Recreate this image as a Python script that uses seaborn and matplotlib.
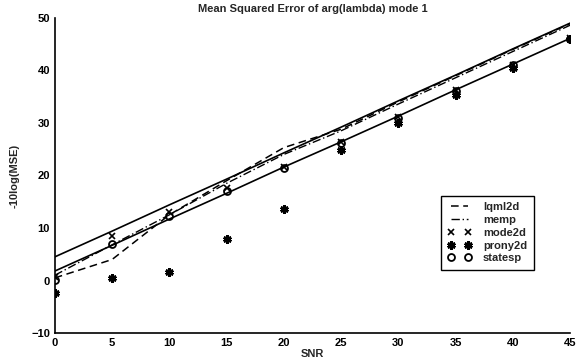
import numpy as np
import pandas as pd
import seaborn as sns
from matplotlib import pyplot as plt

snr = [0, 5, 10, 15, 20, 25, 30, 35, 40, 45]

# two unlabelled bound lines
bound_upper = [4.5, 9.4, 14.4, 19.3, 24.3, 29.2, 34.2, 39.1, 44.1, 49.0]
bound_lower = [1.8, 6.7, 11.7, 16.6, 21.6, 26.4, 31.3, 36.3, 41.2, 46.1]

lqml2d = [0.5, 4.0, 12.5, 19.0, 25.3, 28.8, 34.0, 39.0, 44.0, 48.9]
memp = [1.0, 6.8, 12.5, 18.5, 24.0, 28.5, 33.6, 38.6, 43.6, 48.6]
mode2d = [0.6, 8.5, 13.1, 17.6, 21.7, 26.3, 31.2, 36.2, 41.1, 46.1]
prony2d = [-2.4, 0.4, 1.7, 7.9, 13.6, 24.8, 30.0, 35.4, 40.4, 45.9]
statesp = [0.1, 7.0, 12.2, 17.0, 21.5, 26.2, 31.0, 36.0, 41.0, 46.0]

df = pd.DataFrame({'SNR': snr, 'upper': bound_upper, 'lower': bound_lower,
                   'lqml2d': lqml2d, 'memp': memp, 'mode2d': mode2d,
                   'prony2d': prony2d, 'statesp': statesp})

sns.set_style('white')
plt.rcParams['font.family'] = ['Liberation Sans', 'DejaVu Sans']
plt.rcParams['font.weight'] = 'bold'

fig, ax = plt.subplots(figsize=(5.83, 3.64), dpi=100)
fig.subplots_adjust(left=0.094, right=0.978, top=0.951, bottom=0.085)

sns.lineplot(data=df, x='SNR', y='upper', color='black', lw=1.2, ax=ax)
sns.lineplot(data=df, x='SNR', y='lower', color='black', lw=1.2, ax=ax)
sns.lineplot(data=df, x='SNR', y='lqml2d', color='black', lw=1.1,
             linestyle=(0, (5, 3)), label='lqml2d', ax=ax)
sns.lineplot(data=df, x='SNR', y='memp', color='black', lw=1.0,
             linestyle=(0, (6, 2, 1, 2)), label='memp', ax=ax)
sns.lineplot(data=df, x='SNR', y='mode2d', color='black', linestyle='none',
             marker='x', markersize=5, markeredgecolor='black', markeredgewidth=1.2,
             label='mode2d', ax=ax)
sns.lineplot(data=df, x='SNR', y='prony2d', color='black', linestyle='none',
             marker=(6, 2, 0), markersize=6, markeredgecolor='black', markeredgewidth=2.0,
             label='prony2d', ax=ax)
sns.lineplot(data=df, x='SNR', y='statesp', color='black', linestyle='none',
             marker='o', markersize=5, markerfacecolor='none', markeredgecolor='black',
             markeredgewidth=1.3, label='statesp', ax=ax)

ax.set_xlim(0, 45)
ax.set_ylim(-10, 50)
ax.set_xticks(np.arange(0, 46, 5))
ax.set_yticks(np.arange(-10, 51, 10))
ax.tick_params(direction='in', length=4, width=1, labelsize=8, colors='black')
for lbl in ax.get_xticklabels() + ax.get_yticklabels():
    lbl.set_fontweight('bold')
sns.despine(ax=ax)
for s in ['left', 'bottom']:
    ax.spines[s].set_color('black')
    ax.spines[s].set_linewidth(1.2)

ax.set_title('Mean Squared Error of arg(lambda) mode 1', fontsize=8, fontweight='bold', pad=4)
ax.set_xlabel('SNR', fontsize=8, fontweight='bold', labelpad=1)
ax.set_ylabel('-10log(MSE)', fontsize=8, fontweight='bold', labelpad=8)

leg = ax.legend(loc='upper left', bbox_to_anchor=(0.738, 0.454), numpoints=2,
                fontsize=8, handlelength=2.2, handletextpad=1.0, labelspacing=0.25,
                borderpad=0.6, frameon=True, fancybox=False, framealpha=1)
leg.get_frame().set_edgecolor('black')
leg.get_frame().set_linewidth(1.0)

plt.savefig('out.png', dpi=100)
